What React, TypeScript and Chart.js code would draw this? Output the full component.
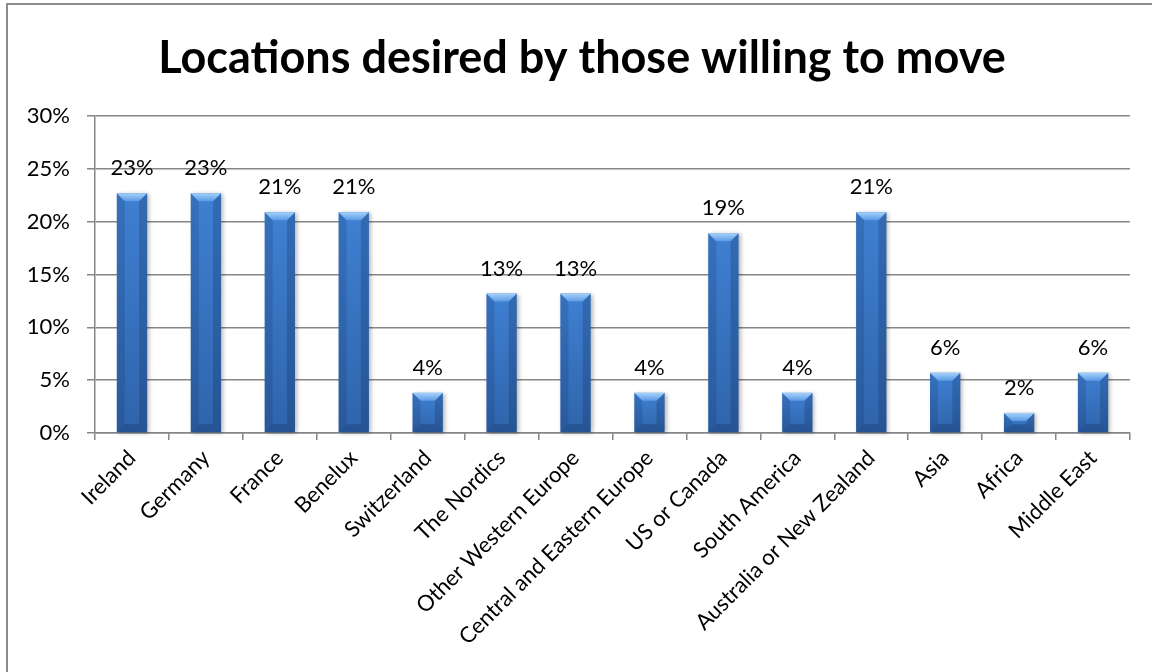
import React, { useEffect, useRef } from "react";
import { Chart, registerables } from "chart.js";

Chart.register(...registerables);

const title = "Locations desired by those willing to move";
const categories = [
  "Ireland",
  "Germany",
  "France",
  "Benelux",
  "Switzerland",
  "The Nordics",
  "Other Western Europe",
  "Central and Eastern Europe",
  "US or Canada",
  "South America",
  "Australia or New Zealand",
  "Asia",
  "Africa",
  "Middle East",
];
const values = [22.7, 22.7, 20.9, 20.9, 3.8, 13.2, 13.2, 3.8, 18.9, 3.8, 20.9, 5.7, 1.9, 5.7];
const yTicks = [0, 5, 10, 15, 20, 25, 30];

const FONT = "Lato, 'Noto Sans', sans-serif";

const bevelPlugin = {
  id: "bevelBars",
  afterDatasetsDraw(chart: any) {
    const ctx = chart.ctx;
    const meta = chart.getDatasetMeta(0);
    meta.data.forEach((bar: any, i: number) => {
      const { x, y, base, width } = bar.getProps(["x", "y", "base", "width"], true);
      const x0 = x - width / 2;
      const x1 = x + width / 2;
      const y0 = y;
      const y1 = base;
      const h = y1 - y0;
      const b = Math.min(8, h / 2, width / 2);
      ctx.save();
      ctx.shadowColor = "rgba(0,0,0,0.28)";
      ctx.shadowBlur = 4;
      ctx.shadowOffsetX = 2;
      ctx.shadowOffsetY = 1;
      const g = ctx.createLinearGradient(0, y0, 0, y1);
      g.addColorStop(0, "#3f80d2");
      g.addColorStop(1, "#2f64ab");
      ctx.fillStyle = g;
      ctx.fillRect(x0, y0, width, h);
      ctx.shadowColor = "transparent";
      ctx.beginPath();
      ctx.moveTo(x0, y0);
      ctx.lineTo(x0 + b, y0 + b);
      ctx.lineTo(x0 + b, y1 - b);
      ctx.lineTo(x0, y1);
      ctx.closePath();
      ctx.fillStyle = "rgba(10,30,70,0.15)";
      ctx.fill();
      ctx.beginPath();
      ctx.moveTo(x1, y0);
      ctx.lineTo(x1 - b, y0 + b);
      ctx.lineTo(x1 - b, y1 - b);
      ctx.lineTo(x1, y1);
      ctx.closePath();
      ctx.fillStyle = "rgba(10,30,70,0.22)";
      ctx.fill();
      ctx.beginPath();
      ctx.moveTo(x0, y1);
      ctx.lineTo(x1, y1);
      ctx.lineTo(x1 - b, y1 - b);
      ctx.lineTo(x0 + b, y1 - b);
      ctx.closePath();
      ctx.fillStyle = "rgba(10,30,70,0.25)";
      ctx.fill();
      ctx.beginPath();
      ctx.moveTo(x0, y0);
      ctx.lineTo(x1, y0);
      ctx.lineTo(x1 - b, y0 + b);
      ctx.lineTo(x0 + b, y0 + b);
      ctx.closePath();
      const tg = ctx.createLinearGradient(0, y0, 0, y0 + b);
      tg.addColorStop(0, "#a6d2fa");
      tg.addColorStop(1, "#5a9ae6");
      ctx.fillStyle = tg;
      ctx.fill();
      ctx.restore();

      ctx.save();
      ctx.font = `22px ${FONT}`;
      ctx.fillStyle = "#000";
      ctx.textAlign = "center";
      ctx.textBaseline = "alphabetic";
      ctx.fillText(`${Math.round(values[i])}%`, x, y0 - 18);
      ctx.restore();
    });
  },
};

export default function App() {
  const ref = useRef<HTMLCanvasElement | null>(null);
  useEffect(() => {
    if (!ref.current) return;
    const chart = new Chart(ref.current, {
      type: "bar",
      data: {
        labels: categories,
        datasets: [
          {
            data: values,
            backgroundColor: "rgba(0,0,0,0)",
            barPercentage: 0.41,
            categoryPercentage: 1,
            yAxisID: "y",
          },
        ],
      },
      plugins: [bevelPlugin],
      options: {
        animation: false,
        responsive: false,
        layout: { padding: { left: 12, right: 0, top: 0, bottom: 0 } },
        plugins: {
          legend: { display: false },
          tooltip: { enabled: false },
          title: {
            display: true,
            text: title,
            color: "#000",
            font: { family: FONT, size: 45, weight: "bold" },
            padding: { top: 31, bottom: 31 },
          },
        },
        scales: {
          x: {
            grid: {
              display: true,
              offset: true,
              drawOnChartArea: false,
              drawTicks: true,
              tickLength: 7,
              color: "#868686",
              lineWidth: 1.5,
            },
            border: { color: "#868686", width: 1.5 },
            ticks: {
              color: "#000",
              font: { family: FONT, size: 22 },
              minRotation: 45,
              maxRotation: 45,
              autoSkip: false,
              padding: 5,
            },
            afterFit(scale: any) {
              scale.height = 672 - 433;
            },
          },
          y: {
            min: 0,
            max: 30,
            afterBuildTicks(scale: any) {
              scale.ticks = yTicks.map((v) => ({ value: v }));
            },
            grid: {
              color: "#868686",
              lineWidth: 1.5,
              tickLength: 8,
            },
            border: { color: "#868686", width: 1.5 },
            ticks: {
              color: "#000",
              font: { family: FONT, size: 22 },
              padding: 17,
              callback: (v: any) => `${v}%`,
            },
            afterFit(scale: any) {
              scale.width = 83;
            },
          },
          yRight: {
            type: "linear",
            position: "right",
            min: 0,
            max: 30,
            grid: { display: false, drawTicks: false },
            border: { display: false },
            ticks: { display: false },
            afterFit(scale: any) {
              scale.width = 22;
            },
          },
        },
      },
    });
    return () => chart.destroy();
  }, []);
  return (
    <div
      style={{
        position: "fixed",
        left: 0,
        top: 0,
        width: 1152,
        height: 672,
        overflow: "hidden",
        background: "#fff",
      }}
    >
      <div
        style={{
          position: "absolute",
          left: 6,
          top: 3,
          width: 1200,
          height: 720,
          borderLeft: "2px solid #8c8c8c",
          borderTop: "2px solid #8c8c8c",
        }}
      />
      <canvas ref={ref} width={1152} height={672} style={{ position: "absolute", left: 0, top: 0 }} />
    </div>
  );
}
